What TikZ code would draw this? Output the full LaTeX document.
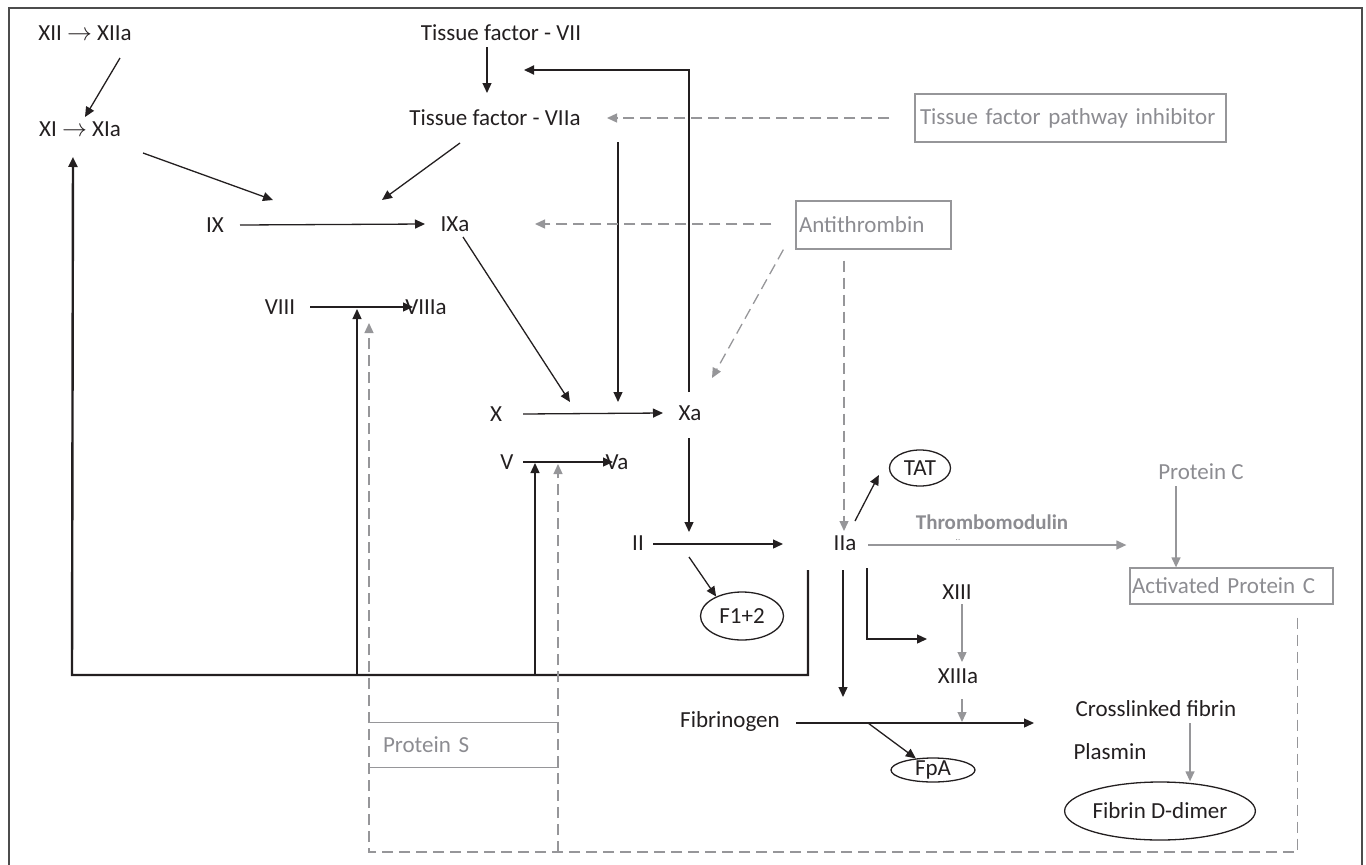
\documentclass[tikz,border=0pt]{standalone}
\usepackage{fontspec}
\setmainfont{Carlito}
\usetikzlibrary{arrows.meta,shapes.geometric}

\definecolor{ink}{RGB}{35,31,32}
\definecolor{inh}{RGB}{150,150,153}
\definecolor{inhtext}{RGB}{140,140,145}

\begin{document}
\begin{tikzpicture}[x=1pt,y=-1pt,
  every node/.style={font=\fontsize{23}{27}\selectfont,inner sep=0pt,text=ink},
  arr/.style={-{Triangle[length=10pt,width=9pt]},line width=1.3pt,draw=ink},
  garr/.style={-{Triangle[length=10pt,width=9pt]},line width=1.3pt,draw=inh},
  gdash/.style={garr,dash pattern=on 11pt off 6pt},
  gbox/.style={draw=inh,line width=1.3pt,text=inhtext,align=left,minimum height=48pt},
  blob/.style={ellipse,draw=ink,line width=1.3pt,inner sep=0pt}]

\useasboundingbox (0,0) rectangle (1366,865);
\draw[line width=1.8pt,draw=black!70] (9,8) rectangle (1362,880);

% factors
\node (xii) at (85,33) {XII $\rightarrow$ XIIa};
\node (xi) at (80,129) {XI $\rightarrow$ XIa};
\node (tf7) at (501,33) {Tissue factor - VII};
\node (tf7a) at (495,118) {Tissue factor - VIIa};
\node (ix) at (215,225) {IX};
\node (ixa) at (455,224) {IXa};
\node (viii) at (280,307) {VIII};
\node (viiia) at (426,307) {VIIIa};
\node (x) at (496,414) {X};
\node (xa) at (690,413) {Xa};
\node (v) at (507,462) {V};
\node (va) at (617,462) {Va};
\node (ii) at (638,543) {II};
\node (iia) at (845,543) {IIa};
\node (xiii) at (957,592) {XIII};
\node (xiiia) at (958,676) {XIIIa};
\node (fbg) at (730,721) {Fibrinogen};
\node (xlink) at (1156,709) {Crosslinked fibrin};
\node (plasmin) at (1110,752) {Plasmin};

% markers
\node[blob,minimum width=61pt,minimum height=36pt] (tat) at (920,468) {TAT};
\node[blob,minimum width=83pt,minimum height=48pt] (f12) at (742,616) {F1+2};
\node[blob,minimum width=84pt,minimum height=24pt,inner ysep=-4pt] (fpa) at (933,770) {FpA};
\node[blob,minimum width=179pt,minimum height=58pt] (ddimer) at (1160,811) {Fibrin D-dimer};

% inhibitors
\node[gbox,inner xsep=5pt,text width=301pt] (tfpi) at (1070.5,118) {Tissue factor pathway inhibitor};
\node[gbox,inner xsep=3pt,text width=149pt] (at) at (873.5,225) {Antithrombin};
\node[gbox,minimum height=36pt,inner xsep=2pt,text width=199pt] (apc) at (1231.5,586) {Activated Protein C};
\node[gbox,draw=none,minimum height=44pt,inner xsep=14pt,text width=161pt] (ps) at (463.5,745) {Protein S};
\node[text=inhtext] (pc) at (1201,472) {Protein C};
\node[text=inhtext,font=\fontsize{21}{25}\selectfont\bfseries] (tm) at (992,522) {Thrombomodulin};
\node[text=inhtext,font=\fontsize{9}{9}\selectfont] (tmdots) at (958,540) {..};

\coordinate (ixj1) at (273,200);
\coordinate (ixj2) at (382,200);
\coordinate (xj1) at (570,402);
\coordinate (xj2) at (618,402);
\coordinate (tfj) at (524,70);
\coordinate (iij) at (689,532);
\coordinate (fbl) at (72,675);
\coordinate (fb8) at (357,675);
\coordinate (fb5) at (535,675);
\coordinate (viiij) at (357,309);
\coordinate (vj) at (535,463);
\coordinate (ps8) at (369,323);
\coordinate (ps5) at (558,464);
\coordinate (psl) at (369,852);
\coordinate (psr) at (558,852);
\coordinate (fj1) at (843,697);
\coordinate (fj2) at (962,722);
\coordinate (xiiij) at (927,639);

% activation
\draw[arr] ([shift={(35,25)}]xii.center) -- ([shift={(5,-12)}]xi.center);
\draw[arr] ([shift={(63,24)}]xi.center) -- (ixj1);
\draw[arr] ([shift={(-35,25)}]tf7a.center) -- (ixj2);
\draw[arr] ([shift={(-14,14)}]tf7.center) -- ([shift={(-8,-25)}]tf7a.center);
\draw[arr] ([shift={(25,0)}]ix.center) -- ([shift={(-30,0)}]ixa.center);
\draw[arr] ([shift={(8,13)}]ixa.center) -- (xj1);
\draw[arr] ([shift={(123,24)}]tf7a.center) -- (xj2);
\draw[arr,line width=1.8pt] ([shift={(-1,-21)}]xa.center) |- (tfj);
\draw[arr] ([shift={(30,0)}]viii.center) -- ([shift={(-13,0)}]viiia.center);
\draw[arr] ([shift={(27,0)}]x.center) -- ([shift={(-27,0)}]xa.center);
\draw[arr] ([shift={(16,0)}]v.center) -- ([shift={(-4,0)}]va.center);
\draw[arr] ([shift={(-1,25)}]xa.center) -- (iij);
\draw[arr] ([shift={(15,1)}]ii.center) -- ([shift={(-62,1)}]iia.center);
\draw[arr] ([shift={(51,14)}]ii.center) -- (f12.143);
\draw[arr] ([shift={(10,-22)}]iia.center) -- ([shift={(-10,7)}]tat.west);
\draw[arr] ([shift={(-2,27)}]iia.center) -- (fj1);
\draw[arr] ([shift={(22,25)}]iia.center) |- (xiiij);
\draw[garr] ([shift={(5,12)}]xiii.center) -- ([shift={(4,-14)}]xiiia.center);
\draw[garr] ([shift={(4,23)}]xiiia.center) -- (fj2);
\draw[arr] ([shift={(66,2)}]fbg.center) -- ([shift={(-122,14)}]xlink.center);
\draw[arr] ([shift={(138,2)}]fbg.center) -- (fpa.146);
\draw[garr] ([shift={(34,14)}]xlink.center) -- ([xshift=30pt]ddimer.north);
\draw[garr] ([shift={(23,2)}]iia.center) -- ([shift={(-3,-41)}]apc.west);
\draw[garr] ([shift={(-25,14)}]pc.center) -- ([xshift=-55.5pt]apc.north);

% feedback
\draw[arr,line width=2.4pt] ([shift={(-37,27)}]iia.center) |- (fbl) -- ([shift={(-7,28)}]xi.center);
\draw[arr] (fb8) -- (viiij);
\draw[arr] (fb5) -- (vj);

% inhibition
\draw[gdash] ([shift={(-25,0)}]tfpi.west) -- ([shift={(112,0)}]tf7a.center);
\draw[gdash] ([shift={(-24,-1)}]at.west) -- ([shift={(80,0)}]ixa.center);
\draw[gdash] ([xshift=-12pt]at.south west) -- ([shift={(22,-35)}]xa.center);
\draw[gdash] ([shift={(-29.5,11)}]at.south) -- ([shift={(-1,-12)}]iia.center);
\draw[gdash] ([shift={(-36,13)}]apc.south east) |- (psl) -- (ps8);
\draw[gdash] (psr) -- (ps5);
\draw[draw=inh,line width=1.3pt] (ps.north west) -- (ps.north east) (ps.south west) -- (ps.south east);

\end{tikzpicture}
\end{document}
